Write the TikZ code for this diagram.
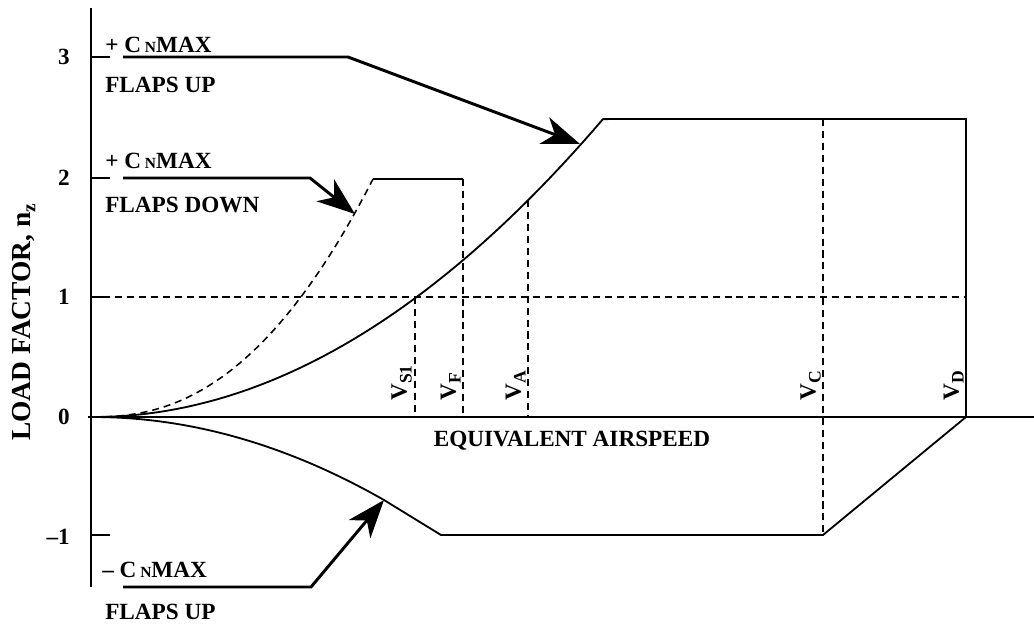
\documentclass[tikz,border=0pt]{standalone}
\usepackage{fontspec}
\setmainfont{Liberation Serif}
\usetikzlibrary{arrows.meta}

\tikzset{
  curve/.style={line width=1.3pt},
  guide/.style={line width=1.1pt, dash pattern=on 5pt off 3.5pt},
  leader/.style={line width=2.1pt, -{Stealth[length=27pt,width=20pt,inset=8pt]}},
  lbl/.style={font=\fontsize{16.5}{19}\selectfont\bfseries, inner sep=0pt},
  vlbl/.style={lbl, rotate=90, anchor=south west},
}
\newcommand{\cnmax}{C\,{\fontsize{11}{12}\selectfont N}MAX}
\newcommand{\vsub}[1]{V\raisebox{-3.5pt}{\fontsize{12.5}{13}\selectfont #1}}

\begin{document}
\begin{tikzpicture}[x=0.025cm,y=-0.025cm]
\useasboundingbox (0,0) rectangle (1034,626);
% axes and ticks
\draw[curve] (91,8) -- (91,587);
\draw[curve] (88,417) -- (1034,417);
\foreach \y in {57,178,297,535}
  \draw[curve] (91,\y) -- (110,\y);
\foreach \n/\y in {3/57,2/178,1/297,0/417}
  \node[lbl, anchor=east] (tick\n) at (70,\y) {\n};
\node[lbl, anchor=east] (tickm1) at (70,537) {--1};
\node[lbl, rotate=90, font=\fontsize{19.5}{22}\selectfont\bfseries] (ylabel) at (24,322) {LOAD FACTOR, n\textsubscript{z}};
\node[lbl] (xlabel) at (572,441) {EQUIVALENT AIRSPEED};

% flaps up envelope
\draw[curve] plot[domain=93:603, samples=50] (\x,{417-119.5*((\x-93)/323)^2})
  -- (966,119) -- (966,417) -- (823,535) -- (441,535)
  -- (384,500) -- plot[domain=384:93, samples=40] (\x,{417+83*((\x-93)/291)^2});
% flaps down
\draw[guide] (93,417) -- plot[domain=94:373, samples=40] (\x,{417-238*((\x-93)/280)^2.3});
\draw[curve] (373,179) -- (463,179);

% guide lines
\draw[guide] (91,297) -- (966,297);
\draw[guide] (415,297) -- (415,417);
\draw[guide] (463,179) -- (463,417);
\draw[guide] (528,200) -- (528,417);
\draw[guide] (823,119) -- (823,535);

\node[vlbl] (vs1) at (412,401) {\vsub{S1}};
\node[vlbl] (vf) at (461,401) {\vsub{F}};
\node[vlbl] (va) at (526,401) {\vsub{A}};
\node[vlbl] (vc) at (821,401) {\vsub{C}};
\node[vlbl] (vd) at (964,401) {\vsub{D}};

% callouts
\node[lbl, anchor=base west] (cup) at (105,52) {+ \cnmax};
\node[lbl, anchor=base west] (fup) at (105,92) {FLAPS UP};
\node[lbl, anchor=base west] (cdn) at (105,168) {+ \cnmax};
\node[lbl, anchor=base west] (fdn) at (105,212) {FLAPS DOWN};
\node[lbl, anchor=base west] (cneg) at (102,577) {-- \cnmax};
\node[lbl, anchor=base west] (fneg) at (105,619) {FLAPS UP};

\coordinate (lu0) at (123,57);
\coordinate (lu1) at (348,57);
\coordinate (tu) at (580,144);
\coordinate (ld0) at (123,178);
\coordinate (ld1) at (310,178);
\coordinate (td) at (355,214);
\coordinate (ln0) at (123,587);
\coordinate (ln1) at (311,587);
\coordinate (tn) at (384,500);
\draw[leader] (lu0) -- (lu1) -- (tu);
\draw[leader] (ld0) -- (ld1) -- (td);
\draw[leader] (ln0) -- (ln1) -- (tn);
\end{tikzpicture}
\end{document}
